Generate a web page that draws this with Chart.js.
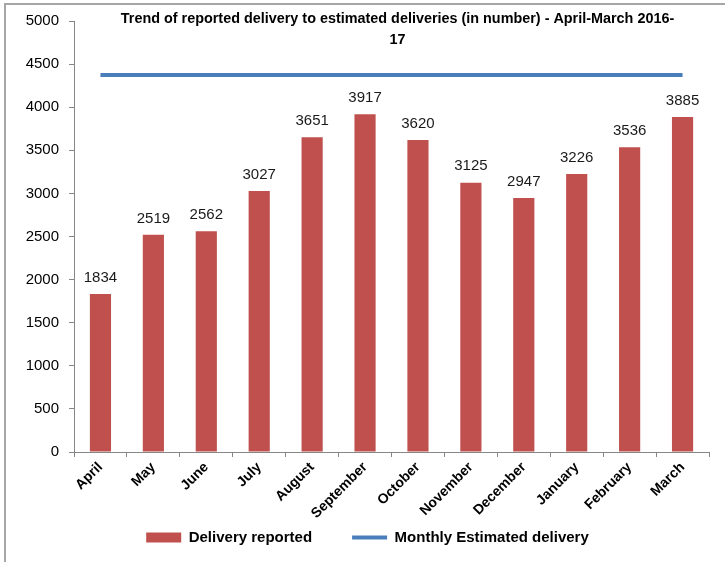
<!DOCTYPE html>
<html>
<head>
<meta charset="utf-8">
<script src="https://cdn.jsdelivr.net/npm/chart.js@4/dist/chart.umd.min.js"></script>
<style>
  html, body { margin: 0; padding: 0; background: #fff; }
  #wrap { position: relative; width: 725px; height: 562px; overflow: hidden; }
  #frame { position: absolute; left: 4px; top: 3px; width: 800px; height: 700px;
           border-top: 2px solid #a6a6a6; border-left: 2px solid #a6a6a6; box-sizing: border-box; }
  canvas { position: absolute; left: 0; top: 0; }
</style>
</head>
<body>
<div id="wrap">
  <div id="frame"></div>
  <canvas id="c" width="725" height="562"></canvas>
</div>
<script>
const FONT = '"Liberation Sans", Arial, sans-serif';
const titleLines = ['Trend of reported delivery to estimated deliveries (in number) - April-March 2016-', '17'];
const months = ['April','May','June','July','August','September','October','November','December','January','February','March'];
const deliveryReported = [1834, 2519, 2562, 3027, 3651, 3917, 3620, 3125, 2947, 3226, 3536, 3885];
const monthlyEstimated = [4375, 4375, 4375, 4375, 4375, 4375, 4375, 4375, 4375, 4375, 4375, 4375];
const yTicks = [0, 500, 1000, 1500, 2000, 2500, 3000, 3500, 4000, 4500, 5000];

const valueLabels = {
  id: 'valueLabels',
  afterDatasetsDraw(chart) {
    const ctx = chart.ctx;
    const meta = chart.getDatasetMeta(0);
    ctx.save();
    ctx.font = '15px ' + FONT;
    ctx.fillStyle = '#1a1a1a';
    ctx.textAlign = 'center';
    ctx.textBaseline = 'bottom';
    meta.data.forEach((bar, i) => {
      ctx.fillText(String(deliveryReported[i]), bar.x, bar.y - 9);
    });
    ctx.restore();
  }
};

const titleInside = {
  id: 'titleInside',
  afterDraw(chart) {
    const ctx = chart.ctx;
    const a = chart.chartArea;
    ctx.save();
    ctx.font = 'bold 14.4px ' + FONT;
    ctx.fillStyle = '#000';
    ctx.textAlign = 'center';
    ctx.textBaseline = 'middle';
    const cx = (a.left + a.right) / 2;
    ctx.fillText(titleLines[0], cx + 6, 19);
    ctx.fillText(titleLines[1], cx + 6, 40);
    ctx.restore();
  }
};

// let the rotated month labels extend below the (short) x-axis box
const noLabelClip = {
  id: 'noLabelClip',
  beforeDraw(chart) {
    chart.scales.x._computeLabelArea = () => undefined;
  }
};

new Chart(document.getElementById('c'), {
  type: 'bar',
  data: {
    labels: months,
    datasets: [
      {
        type: 'bar',
        label: 'Delivery reported',
        data: deliveryReported,
        backgroundColor: '#c0504d',
        borderWidth: 0,
        barPercentage: 0.8,
        categoryPercentage: 0.5,
        pointStyle: 'rect',
        order: 2
      },
      {
        type: 'line',
        label: 'Monthly Estimated delivery',
        data: monthlyEstimated,
        borderColor: '#4a7ebb',
        backgroundColor: '#4a7ebb',
        borderWidth: 4,
        pointRadius: 0,
        pointStyle: 'line',
        fill: false,
        order: 1
      }
    ]
  },
  options: {
    responsive: false,
    animation: false,
    devicePixelRatio: 1,
    layout: { padding: { left: 26, right: 16, top: 21, bottom: 7 } },
    plugins: {
      title: { display: false },
      tooltip: { enabled: false },
      legend: {
        position: 'bottom',
        labels: {
          usePointStyle: true,
          pointStyleWidth: 35,
          boxHeight: 10,
          padding: 40,
          color: '#000',
          font: { family: FONT, size: 15, weight: 'bold' },
          sort: (a, b) => a.datasetIndex - b.datasetIndex
        }
      }
    },
    scales: {
      x: {
        grid: { display: true, drawOnChartArea: false, drawTicks: true, tickLength: 5, color: '#868686', offset: true },
        border: { color: '#868686', width: 1 },
        ticks: {
          color: '#000',
          minRotation: 45, maxRotation: 45,
          padding: 2,
          font: { family: FONT, size: 14, weight: 'bold' }
        },
        afterFit(scale) { scale.height = 38; }
      },
      y: {
        min: 0, max: 5000,
        afterBuildTicks(scale) { scale.ticks = yTicks.map(v => ({ value: v })); },
        grid: { display: true, drawOnChartArea: false, drawTicks: true, tickLength: 5, color: '#868686' },
        border: { color: '#868686', width: 1 },
        ticks: {
          color: '#000',
          padding: 10,
          font: { family: FONT, size: 15 },
          callback: (v) => String(v)
        },
        afterFit(scale) { scale.width = 48; }
      }
    }
  },
  plugins: [valueLabels, titleInside, noLabelClip]
});
</script>
</body>
</html>
